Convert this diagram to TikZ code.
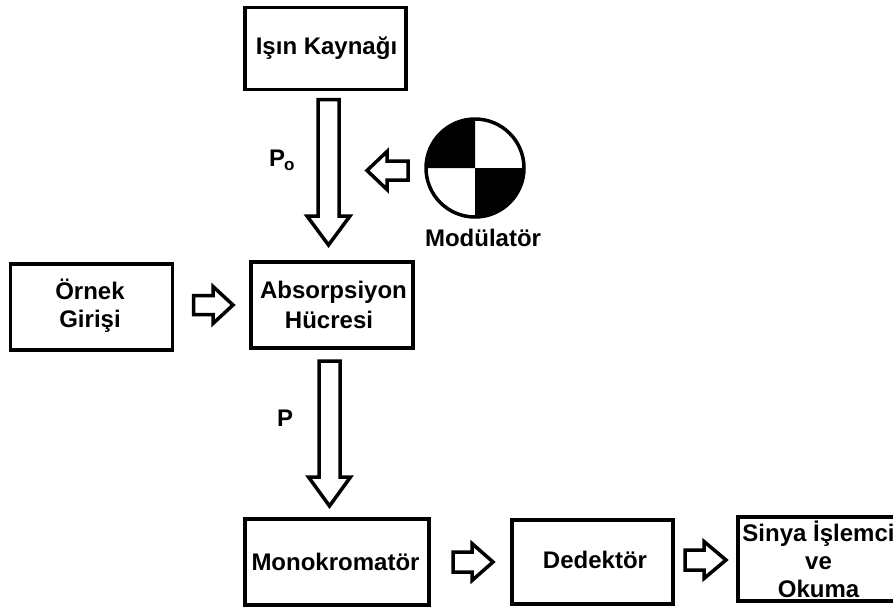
\documentclass[tikz,border=0pt]{standalone}
\usepackage{fontspec}
\setmainfont{Liberation Sans}
\usetikzlibrary{calc}
\tikzset{
  box/.style={draw=black,line width=3.5pt,fill=white,rectangle,inner sep=0pt,outer sep=0pt},
  lbl/.style={font=\fontsize{24}{28}\selectfont\bfseries,text=black,align=center,inner sep=0pt},
  blockarrow/.style={draw=black,line width=3.5pt,fill=white,line join=miter,miter limit=6}
}
% start, end, shaft half-width, wing half-width, head length
\newcommand{\blockarrow}[5]{%
  \coordinate (hb) at ($(#2)!#5pt!(#1)$);
  \draw[blockarrow] ($(#1)!#3pt!90:(#2)$) -- ($(hb)!#3pt!90:(#2)$) -- ($(hb)!#4pt!90:(#2)$) -- (#2)
    -- ($(hb)!#4pt!-90:(#2)$) -- ($(hb)!#3pt!-90:(#2)$) -- ($(#1)!#3pt!-90:(#2)$) -- cycle;
}
\newcommand{\boxat}[5]{\node[box,minimum width=#4pt,minimum height=#5pt] (#1) at (#2,#3) {};}
\begin{document}
\begin{tikzpicture}[x=1pt,y=-1pt]
\useasboundingbox (0,0) rectangle (893,608);
\fill[white] (0,0) rectangle (893,608);
% boxes: centre x, centre y, w, h
\boxat{isin}{325.5}{48.5}{161}{82}
\boxat{ornek}{91.5}{307}{162}{86}
\boxat{abs}{332}{305}{162}{86}
\boxat{mono}{337}{562}{184}{86}
\boxat{ded}{592.5}{562}{161}{84}
\boxat{sinya}{816.5}{559}{157}{84}
% labels
\node[lbl] (isinL) at (326.5,48) {Işın Kaynağı};
\node[lbl] (ornekL) at (90,306) {Örnek\\Girişi};
\node[lbl] (absL1) at (333.5,292) {Absorpsiyon};
\node[lbl] (absL2) at (329,320) {Hücresi};
\node[lbl] (monoL) at (335.5,562) {Monokromatör};
\node[lbl] (dedL) at (595,560) {Dedektör};
\node[lbl] (sinyaL) at (818.5,559) {Sinya İşlemci\\ve\\Okuma};
\node[lbl] (modL) at (483,238) {Modülatör};
\node[lbl,anchor=west] (poL) at (269,158) {P};
\node[font=\fontsize{17}{20}\selectfont\bfseries,anchor=west,inner sep=0pt] (poS) at (284,166) {o};
\node[lbl] (pL) at (285,418) {P};
% modulator disc (y axis points down, so angles run clockwise on the page)
\coordinate (mod) at (475,168);
\fill[black] (mod) -- (426,168) arc[start angle=180,end angle=270,radius=49] -- cycle;
\fill[black] (mod) -- (524,168) arc[start angle=0,end angle=90,radius=49] -- cycle;
\draw[line width=3.5pt] (mod) circle[radius=49];
% arrows
\coordinate (a1s) at ($(isin.south)+(3,10)$);
\coordinate (a1e) at ($(abs.north)+(-3.5,-17)$);
\blockarrow{a1s}{a1e}{10.5}{21.5}{29}
\coordinate (a2s) at (408,170.5);
\coordinate (a2e) at (367,170.5);
\blockarrow{a2s}{a2e}{9.5}{19}{20}
\coordinate (a3s) at ($(ornek.east)+(21,-2)$);
\coordinate (a3e) at ($(abs.west)+(-18,0)$);
\blockarrow{a3s}{a3e}{9.5}{18.5}{20}
\coordinate (a4s) at ($(abs.south)+(-2.5,13)$);
\coordinate (a4e) at ($(mono.north)+(-7.5,-13)$);
\blockarrow{a4s}{a4e}{10.5}{21}{29}
\coordinate (a5s) at ($(mono.east)+(24,0)$);
\coordinate (a5e) at ($(ded.west)+(-19,0)$);
\blockarrow{a5s}{a5e}{10}{18.5}{21}
\coordinate (a6s) at ($(ded.east)+(12,-2)$);
\coordinate (a6e) at ($(sinya.west)+(-12,1)$);
\blockarrow{a6s}{a6e}{10}{18.5}{22}
\end{tikzpicture}
\end{document}
